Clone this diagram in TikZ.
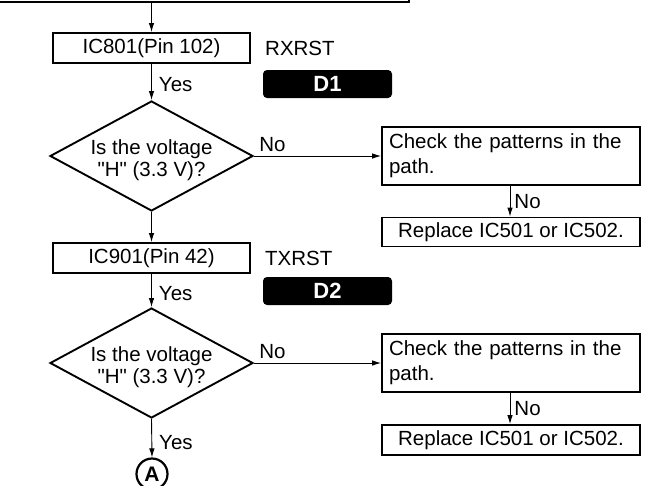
\documentclass[tikz,border=0pt]{standalone}
\usepackage{fontspec}
\setmainfont{Liberation Sans}[Ligatures=TeXOff]
\usetikzlibrary{arrows.meta,shapes.geometric}
\newcommand\fsz{\fontsize{20.5}{25}\selectfont}
\tikzset{
  box/.style={draw, line width=1.9pt, minimum width=197pt, minimum height=30pt, inner sep=0pt, font=\fsz},
  wbox/.style={draw, line width=1.9pt, minimum width=258pt, inner sep=0pt, font=\fsz},
  chk/.style={wbox, minimum height=58pt, text width=244pt, align=left},
  dia/.style={draw, diamond, line width=1.9pt, minimum width=203pt, minimum height=110pt, inner sep=0pt},
  dtext/.style={align=center, inner sep=0pt, font=\fontsize{20.5}{21.5}\selectfont},
  lbl/.style={inner sep=0pt, font=\fsz},
  tag/.style={fill=black, rounded corners=4pt, minimum width=129pt, minimum height=28pt, inner sep=0pt, text=white, font=\bfseries\fontsize{22}{22}\selectfont},
  arr/.style={-{Latex[length=9pt,width=5.5pt]}, line width=0.9pt}
}
\begin{document}
\begin{tikzpicture}[x=1pt,y=-1pt]
\clip (0,0) rectangle (652,485);
\fill[white] (0,0) rectangle (652,485);
% top (cut-off) box
\node[draw, line width=2.4pt, minimum width=420pt, minimum height=40pt, inner sep=0pt, anchor=south west] (top) at (-12,3) {};
% first block
\node[box] (ic801) at (151.5,48) {IC801(Pin 102)};
\node[lbl, anchor=west] (rx) at (265,48) {RXRST};
\node[tag] (d1) at (327.5,84) {D1};
\node[dia] (dia1) at (151.5,156) {};
\node[dtext] (q1) at (151.5,160) {Is the voltage\\"H" (3.3 V)?};
\node[chk] (chk1) at (511,156) {Check the patterns in the path.};
\node[wbox, minimum height=29pt] (rep1) at (511,232) {Replace IC501 or IC502.};
\draw[arr] (ic801.north |- top.south) -- (ic801.north);
\draw[arr] (ic801.south) -- node[lbl, anchor=west, xshift=7pt, yshift=-3pt] (y1) {Yes} (dia1.north);
\draw[arr] (dia1.east) -- node[lbl, anchor=south west, xshift=5pt, yshift=4pt, pos=0] (n1) {No} (chk1.west |- dia1.east);
\draw[arr] (chk1.south -| 510,0) -- node[lbl, anchor=west, xshift=4pt] (n2) {No} (rep1.north -| 510,0);
% second block
\node[box] (ic901) at (151.5,258) {IC901(Pin 42)};
\node[lbl, anchor=west] (tx) at (265,258) {TXRST};
\node[tag] (d2) at (327.5,291) {D2};
\node[dia] (dia2) at (151.5,363) {};
\node[dtext] (q2) at (151.5,367) {Is the voltage\\"H" (3.3 V)?};
\node[chk] (chk2) at (511,363) {Check the patterns in the path.};
\node[wbox, minimum height=30pt] (rep2) at (511,440) {Replace IC501 or IC502.};
\draw[arr] (dia1.south) -- (ic901.north);
\draw[arr] (ic901.south) -- node[lbl, anchor=west, xshift=7pt, yshift=-3pt] (y2) {Yes} (dia2.north);
\draw[arr] (dia2.east) -- node[lbl, anchor=south west, xshift=5pt, yshift=4pt, pos=0] (n3) {No} (chk2.west |- dia2.east);
\draw[arr] (chk2.south -| 510,0) -- node[lbl, anchor=west, xshift=4pt] (n4) {No} (rep2.north -| 510,0);
\node[circle, draw, line width=2.2pt, minimum size=31pt, inner sep=0pt, font=\bfseries\fontsize{21}{21}\selectfont] (A) at (152,474) {A};
\draw[arr] (dia2.south) -- node[lbl, anchor=west, xshift=7pt, yshift=-4pt] (y3) {Yes} (A.north);
\end{tikzpicture}
\end{document}
